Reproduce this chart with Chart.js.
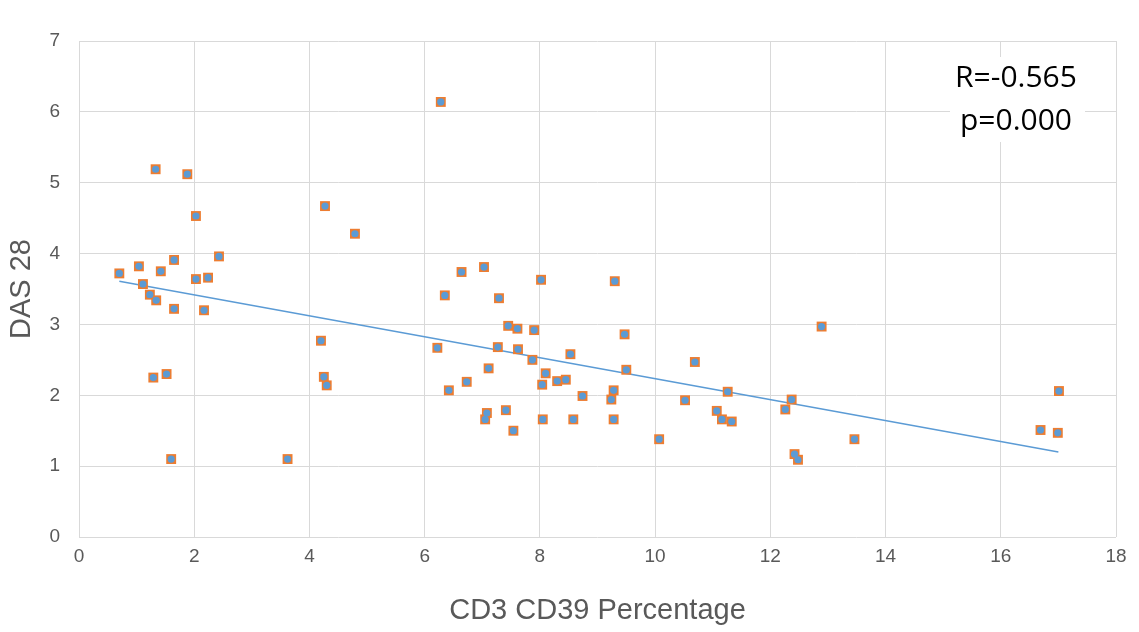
<!DOCTYPE html>
<html>
<head>
<meta charset="utf-8">
<script src="https://cdn.jsdelivr.net/npm/chart.js@4/dist/chart.umd.min.js"></script>
<style>
html,body{margin:0;padding:0;background:#fff;}
#wrap{width:1139px;height:632px;}
</style>
</head>
<body>
<div id="wrap"><canvas id="c" width="1139" height="632"></canvas></div>
<script>
// CD3 CD39 percentage (x) and DAS 28 (y)
const cd39 = [0.70,1.04,1.11,1.23,1.34,1.33,1.29,1.52,1.60,1.42,1.65,1.65,1.88,2.03,2.03,2.24,2.17,2.43,
  3.62,4.20,4.25,4.30,4.27,4.79,
  6.28,6.22,6.35,6.42,6.64,6.73,7.03,7.05,7.08,7.11,7.27,7.29,7.41,7.45,7.54,7.61,7.62,7.87,7.90,8.02,8.04,8.05,8.10,8.30,8.45,8.53,8.58,8.74,9.24,9.28,9.28,9.30,9.47,9.50,
  10.07,10.52,10.69,11.07,11.16,11.26,11.33,12.26,12.37,12.42,12.48,12.89,13.46,16.69,16.99,17.01];
const das28 = [3.72,3.82,3.57,3.42,3.34,5.19,2.25,2.30,1.10,3.75,3.91,3.22,5.12,4.53,3.64,3.66,3.20,3.96,
  1.10,2.77,2.26,2.14,4.67,4.28,
  6.14,2.67,3.41,2.07,3.74,2.19,3.81,1.66,1.75,2.38,2.68,3.37,1.79,2.98,1.50,2.94,2.65,2.50,2.92,3.63,2.15,1.66,2.31,2.20,2.22,2.58,1.66,1.99,1.94,2.07,1.66,3.61,2.86,2.36,
  1.38,1.93,2.47,1.78,1.66,2.05,1.63,1.80,1.94,1.17,1.09,2.97,1.38,1.51,1.47,2.06];
// trend line end points
const trendX = [0.70, 17.00];
const trendY = [3.61, 1.20];
const xTicks = [0,2,4,6,8,10,12,14,16,18];
const yTicks = [0,1,2,3,4,5,6,7];
const statLines = ["R=-0.565", "p=0.000"];

const pts = cd39.map((x,i)=>({x:x, y:das28[i]}));
const trend = trendX.map((x,i)=>({x:x, y:trendY[i]}));

const FONT = "'Liberation Sans Narrow','Liberation Sans',sans-serif";

const statPlugin = {
  id:'stat',
  afterDatasetsDraw(chart){
    const ctx = chart.ctx;
    ctx.save();
    ctx.font = "30px 'Open Sans', sans-serif";
    ctx.textAlign = 'center';
    ctx.textBaseline = 'middle';
    const cx = 1016;
    const ys = [78, 121];
    ctx.fillStyle = '#ffffff';
    ctx.fillRect(950, 57, 135, 85);
    ctx.fillStyle = '#000000';
    statLines.forEach((t,i)=>ctx.fillText(t, cx, ys[i]));
    ctx.restore();
  }
};

new Chart(document.getElementById('c'), {
  type:'scatter',
  data:{
    datasets:[
      {type:'line', data:trend, borderColor:'#5B9BD5', borderWidth:1.5, pointRadius:0, fill:false, order:3},
      {data:pts, pointStyle:'rect', pointRadius:7, backgroundColor:'#ED7D31', borderColor:'#ED7D31', borderWidth:0, order:2},
      {data:pts, pointStyle:'circle', pointRadius:3.6, backgroundColor:'#5B9BD5', borderColor:'#5B9BD5', borderWidth:0, order:1}
    ]
  },
  options:{
    responsive:false,
    animation:false,
    events:[],
    layout:{padding:{top:41, right:23, left:0, bottom:0}},
    plugins:{legend:{display:false}, tooltip:{enabled:false}},
    scales:{
      x:{
        type:'linear', min:0, max:18,
        afterBuildTicks(s){ s.ticks = xTicks.map(v=>({value:v})); },
        afterFit(s){ s.height = 95; },
        grid:{color:'#d9d9d9', lineWidth:1, drawTicks:false},
        border:{display:false},
        ticks:{color:'#595959', font:{family:FONT, size:19}, padding:8},
        title:{display:true, text:'CD3 CD39 Percentage', color:'#595959', font:{family:FONT, size:29}, padding:{top:14}}
      },
      y:{
        type:'linear', min:0, max:7,
        afterBuildTicks(s){ s.ticks = yTicks.map(v=>({value:v})); },
        afterFit(s){ s.width = 79; },
        grid:{color:'#d9d9d9', lineWidth:1, drawTicks:false},
        border:{display:false},
        ticks:{color:'#595959', font:{family:FONT, size:19}, padding:19},
        title:{display:true, text:'DAS 28', color:'#595959', font:{family:FONT, size:29}, padding:{top:5}}
      }
    }
  },
  plugins:[statPlugin]
});
</script>
</body>
</html>
